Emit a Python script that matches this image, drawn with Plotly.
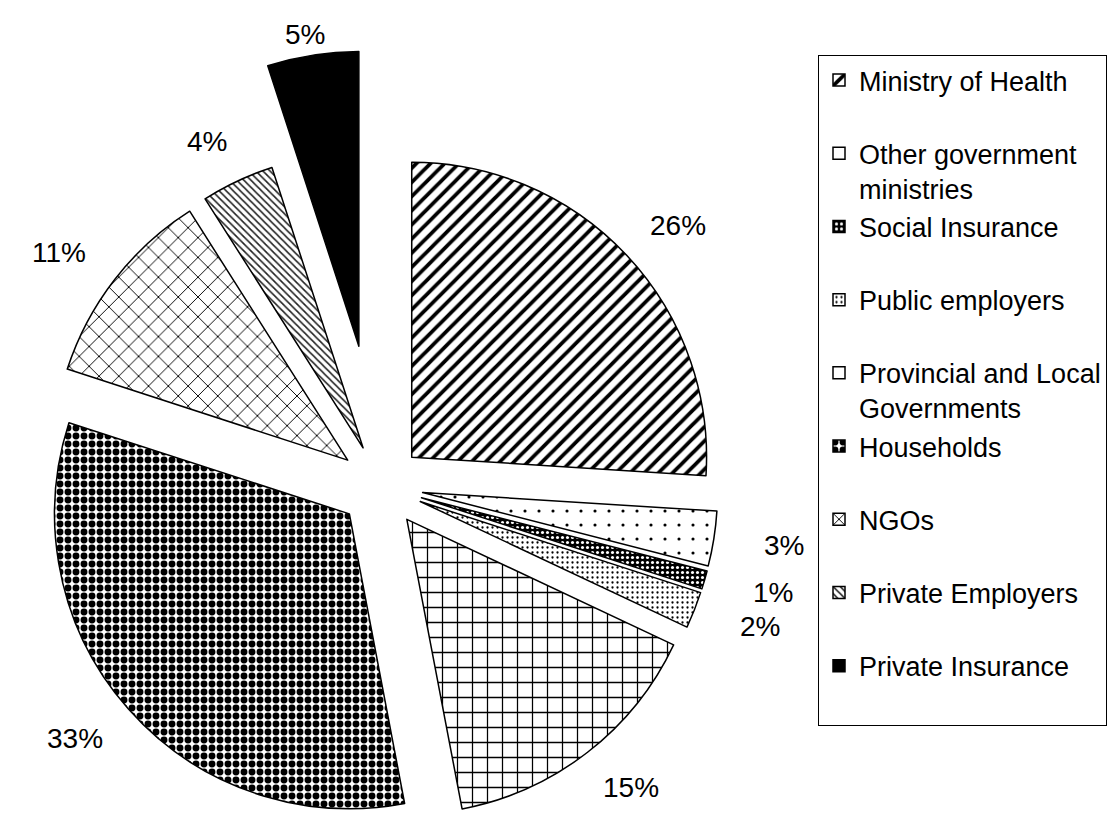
import math
import plotly.graph_objects as go

# Health expenditure by financing source (% of total)
sources = [
    "Ministry of Health<br> ",
    "Other government<br>ministries",
    "Social Insurance<br> ",
    "Public employers<br> ",
    "Provincial and Local<br>Governments",
    "Households<br> ",
    "NGOs<br> ",
    "Private Employers<br> ",
    "Private Insurance<br> ",
]
shares = [26, 3, 1, 2, 15, 33, 11, 4, 5]

# hatch styles for each source
pat_shape = ["/", ".", ".", ".", "+", ".", "x", "\\", ""]
pat_size = [10, 14, 5, 5, 15, 8, 14, 5, 8]
pat_solid = [0.38, 0.04, 0.3, 0.16, 0.16, 0.58, 0.13, 0.32, 0.3]
pat_fg = ["black", "black", "white", "black", "black", "black", "black", "#222222", "black"]
pat_bg = ["white", "white", "black", "white", "white", "white", "white", "white", "black"]

W, H = 1112, 823
CX, CY = 381, 486          # pie centre (px from top-left)
HALF = 337                 # half size of the pie box (px)
GAP = 0.143                # explode distance for every slice
FAR = 0.48                 # explode distance for the detached slice
LABEL_R = 1.15             # label distance beyond a slice's apex, in radii
LABEL_R_FAR = 1.07         # same, for the detached slice
LABEL_XSTRETCH = 1.07      # widen label placement horizontally
DETACHED = len(shares) - 1

R = HALF / (1 + GAP)
clear = "rgba(0,0,0,0)"
font_family = "Liberation Sans, Arial, sans-serif"
n = len(shares)
total = sum(shares)


def box(cx, cy, half):
    x0 = max(0.0, (cx - half) / W)
    x1 = min(1.0, (cx + half) / W)
    y0 = max(0.0, 1 - (cy + half) / H)
    y1 = min(1.0, 1 - (cy - half) / H)
    return dict(x=[x0, x1], y=[y0, y1])


def bisector(i):
    a = (sum(shares[:i]) + shares[i] / 2) / total * 2 * math.pi
    return math.sin(a), -math.cos(a)


common = dict(labels=sources, values=shares, sort=False, direction="clockwise",
              rotation=0, hoverinfo="skip", textinfo="none")

fig = go.Figure()

# main exploded pie (also provides the legend)
fig.add_trace(go.Pie(
    **common,
    pull=[GAP] * n,
    domain=box(CX, CY, HALF),
    marker=dict(colors=pat_bg,
                line=dict(color="black", width=1.5),
                pattern=dict(shape=pat_shape, size=pat_size, solidity=pat_solid,
                             fgcolor=pat_fg, bgcolor=pat_bg)),
    showlegend=True,
))

# blank out the detached slice at its regular position
fig.add_trace(go.Pie(
    **common,
    pull=[GAP] * n,
    domain=box(CX, CY, HALF),
    marker=dict(colors=[clear if i != DETACHED else "white" for i in range(n)],
                line=dict(color=[clear if i != DETACHED else "white" for i in range(n)],
                          width=4)),
    showlegend=False,
))

# detached slice drawn further out along its bisector
dx, dy = bisector(DETACHED)
fig.add_trace(go.Pie(
    **common,
    pull=[0] * n,
    domain=box(CX + FAR * R * dx, CY + FAR * R * dy, R),
    marker=dict(colors=[clear if i != DETACHED else "black" for i in range(n)],
                line=dict(color=[clear if i != DETACHED else "black" for i in range(n)],
                          width=1.5)),
    showlegend=False,
))

# percentage labels outside each slice
for i, v in enumerate(shares):
    dx, dy = bisector(i)
    if i == DETACHED:
        dist = (FAR + LABEL_R_FAR) * R
    else:
        dist = (GAP + LABEL_R) * R
    fig.add_annotation(
        x=(CX + dist * dx * LABEL_XSTRETCH) / W, y=1 - (CY + dist * dy) / H,
        xref="paper", yref="paper", text=f"{v}%", showarrow=False,
        xanchor="center", yanchor="middle",
        font=dict(size=28, color="black", family=font_family),
    )

fig.update_layout(
    width=W, height=H,
    margin=dict(l=0, r=0, t=0, b=0, autoexpand=False),
    paper_bgcolor="white",
    font=dict(family=font_family, color="black"),
    legend=dict(x=818 / W, y=1 - 55 / H, xanchor="left", yanchor="top",
                bordercolor="black", borderwidth=1, bgcolor="white",
                valign="top", font=dict(size=27, color="black", family=font_family)),
)

fig.write_html("out.html")
